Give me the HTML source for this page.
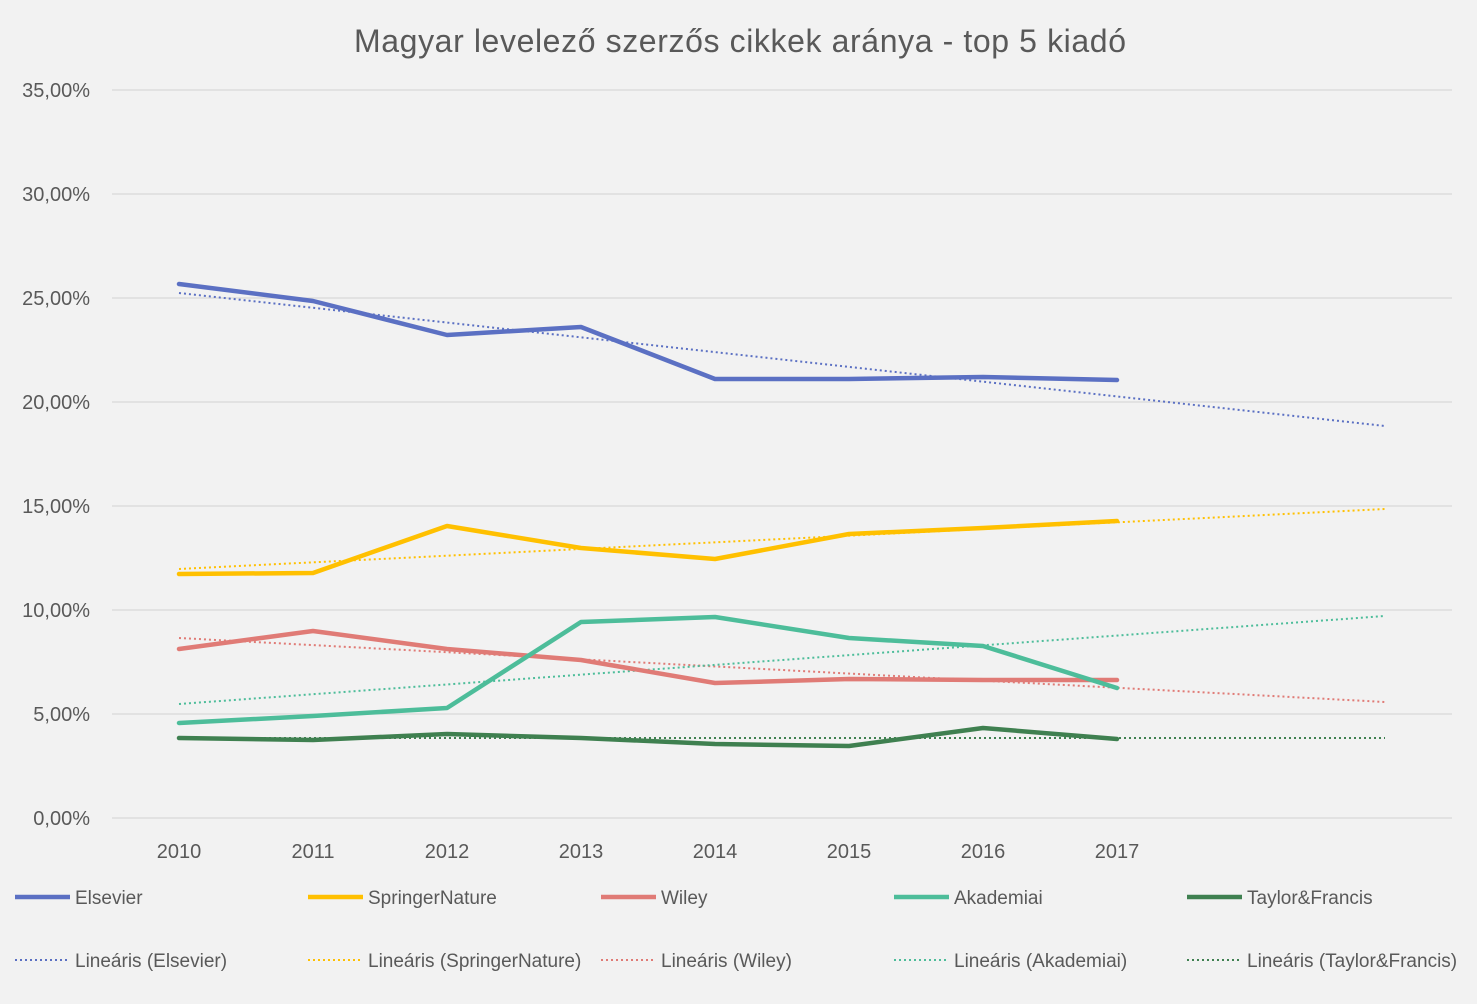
<!DOCTYPE html>
<html><head><meta charset="utf-8"><style>
body{margin:0;background:#f2f2f2;}
svg{display:block;font-family:"Liberation Sans",sans-serif;}
</style></head><body>
<svg width="1477" height="1004" xmlns="http://www.w3.org/2000/svg">
<rect width="1477" height="1004" fill="#f2f2f2"/>
<text x="740" y="52" text-anchor="middle" font-size="32" textLength="772" fill="#595959">Magyar levelező szerzős cikkek aránya - top 5 kiadó</text>
<g stroke="#d9d9d9" stroke-width="1.3">
<line x1="112" x2="1452" y1="90" y2="90"/><line x1="112" x2="1452" y1="194" y2="194"/>
<line x1="112" x2="1452" y1="298" y2="298"/><line x1="112" x2="1452" y1="402" y2="402"/>
<line x1="112" x2="1452" y1="506" y2="506"/><line x1="112" x2="1452" y1="610" y2="610"/>
<line x1="112" x2="1452" y1="714" y2="714"/><line x1="112" x2="1452" y1="818" y2="818"/>
</g>
<g font-size="20" fill="#595959" text-anchor="end">
<text x="90" y="97">35,00%</text><text x="90" y="201">30,00%</text><text x="90" y="305">25,00%</text>
<text x="90" y="409">20,00%</text><text x="90" y="513">15,00%</text><text x="90" y="617">10,00%</text>
<text x="90" y="721">5,00%</text><text x="90" y="825">0,00%</text>
</g>
<g font-size="20" fill="#595959" text-anchor="middle">
<text x="179" y="858">2010</text><text x="313" y="858">2011</text><text x="447" y="858">2012</text>
<text x="581" y="858">2013</text><text x="715" y="858">2014</text><text x="849" y="858">2015</text>
<text x="983" y="858">2016</text><text x="1117" y="858">2017</text>
</g>
<g fill="none" stroke-width="2" stroke-dasharray="2,3">
<line x1="179" y1="293" x2="1385" y2="426" stroke="#5b70c3"/>
<line x1="179" y1="569" x2="1385" y2="509" stroke="#ffc000"/>
<line x1="179" y1="638" x2="1385" y2="702" stroke="#e07b76"/>
<line x1="179" y1="704" x2="1385" y2="616" stroke="#4dbd9a"/>
<line x1="179" y1="738" x2="1385" y2="738" stroke="#3f8050"/>
</g>
<g fill="none" stroke-width="4.5" stroke-linejoin="round" stroke-linecap="round">
<polyline stroke="#5b70c3" points="179,284 313,301 447,335 581,327 715,379 849,379 983,377 1117,380"/>
<polyline stroke="#ffc000" points="179,574 313,573 447,526 581,548 715,559 849,534 983,528 1117,521"/>
<polyline stroke="#e07b76" points="179,649 313,631 447,649 581,660 715,683 849,679 983,680 1117,680"/>
<polyline stroke="#4dbd9a" points="179,723 313,716 447,708 581,622 715,617 849,638 983,646 1117,688"/>
<polyline stroke="#3f8050" points="179,738 313,740 447,734 581,738 715,744 849,746 983,728 1117,739"/>
</g>
<g stroke-width="4.5">
<line x1="15" x2="70" y1="897" y2="897" stroke="#5b70c3"/>
<line x1="308" x2="363" y1="897" y2="897" stroke="#ffc000"/>
<line x1="601" x2="656" y1="897" y2="897" stroke="#e07b76"/>
<line x1="894" x2="949" y1="897" y2="897" stroke="#4dbd9a"/>
<line x1="1187" x2="1242" y1="897" y2="897" stroke="#3f8050"/>
</g>
<g stroke-width="2" stroke-dasharray="2,3">
<line x1="15" x2="70" y1="960" y2="960" stroke="#5b70c3"/>
<line x1="308" x2="363" y1="960" y2="960" stroke="#ffc000"/>
<line x1="601" x2="656" y1="960" y2="960" stroke="#e07b76"/>
<line x1="894" x2="949" y1="960" y2="960" stroke="#4dbd9a"/>
<line x1="1187" x2="1242" y1="960" y2="960" stroke="#3f8050"/>
</g>
<g font-size="19" fill="#595959">
<text x="75" y="904">Elsevier</text><text x="368" y="904">SpringerNature</text>
<text x="661" y="904">Wiley</text><text x="954" y="904">Akademiai</text><text x="1247" y="904">Taylor&amp;Francis</text>
<text x="75" y="967">Lineáris (Elsevier)</text><text x="368" y="967">Lineáris (SpringerNature)</text>
<text x="661" y="967">Lineáris (Wiley)</text><text x="954" y="967">Lineáris (Akademiai)</text>
<text x="1247" y="967">Lineáris (Taylor&amp;Francis)</text>
</g>
</svg>
</body></html>
